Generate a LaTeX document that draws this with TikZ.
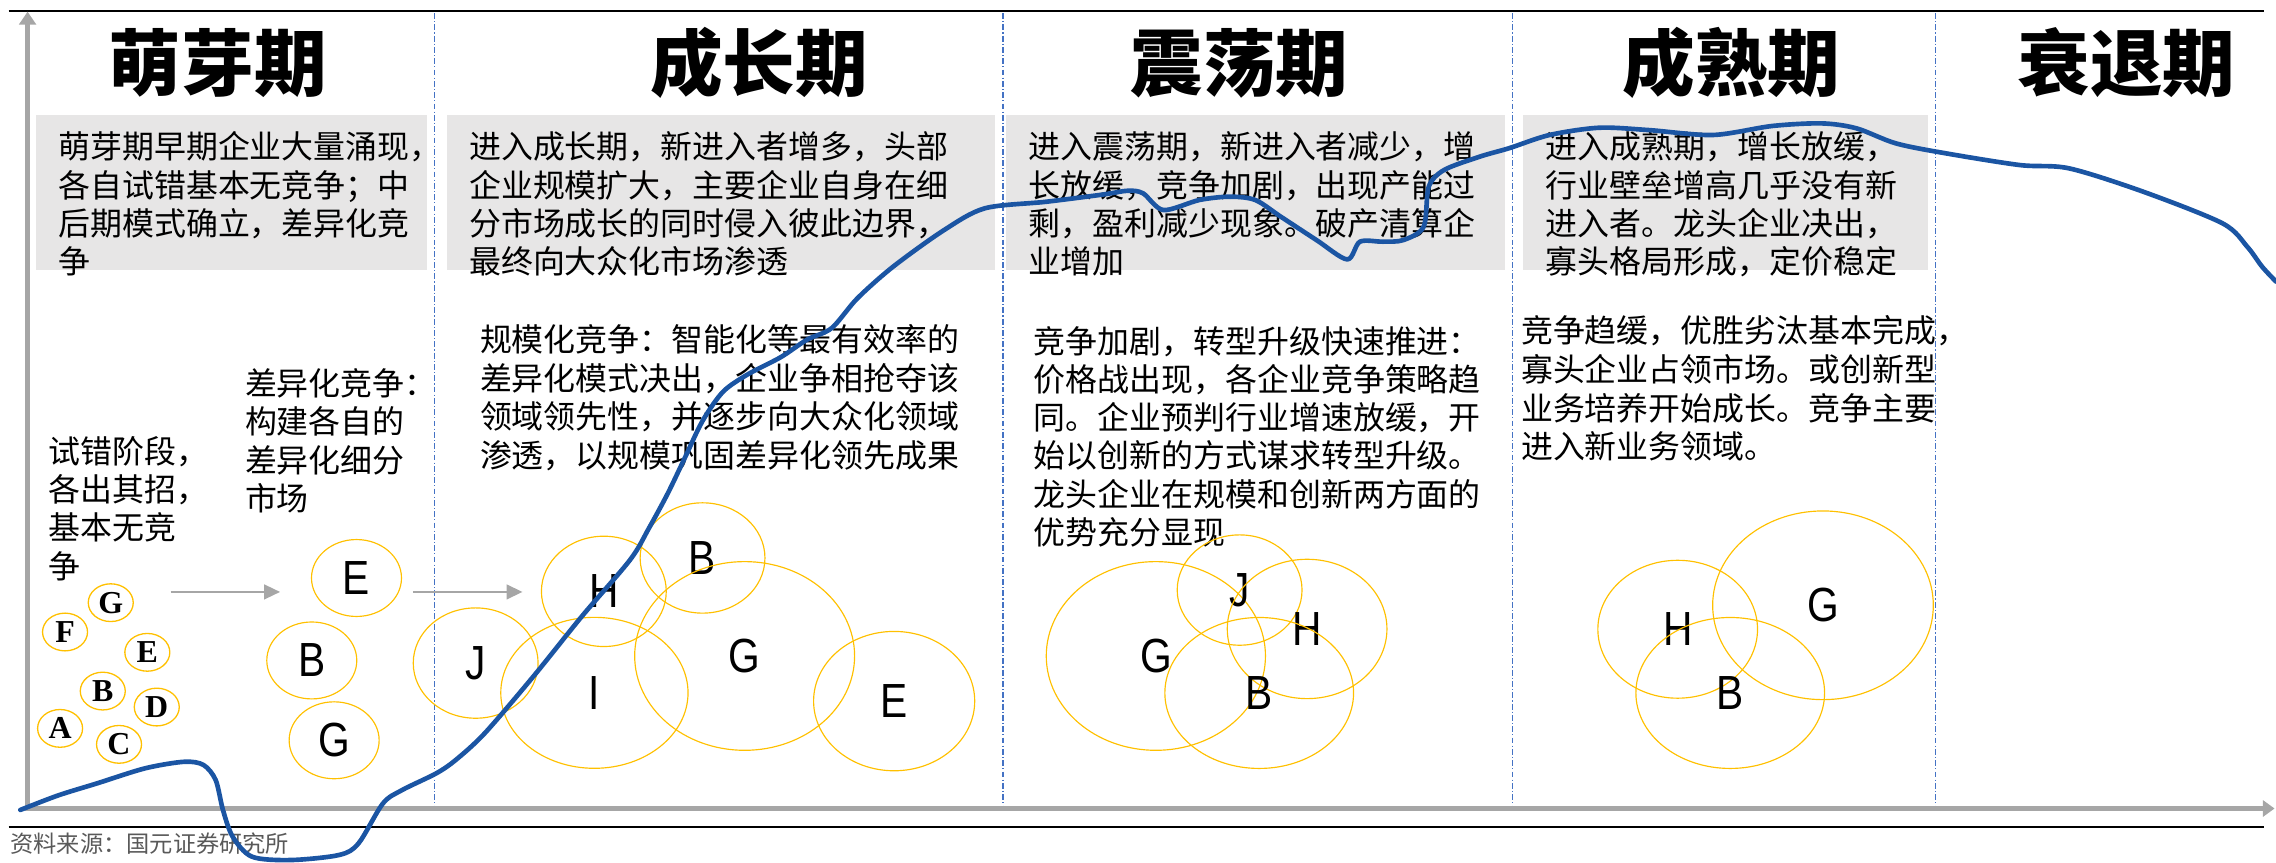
\documentclass[tikz,border=0pt]{standalone}
\usepackage{fontspec}
\setmainfont{Noto Sans CJK SC}
\newfontfamily\latinserif{Liberation Serif}
\newfontfamily\latinsans[FakeStretch=0.85]{Liberation Sans}
\usetikzlibrary{arrows.meta,shapes.geometric}
\definecolor{boxgray}{HTML}{E7E6E6}
\definecolor{ringorange}{HTML}{FFC000}
\definecolor{axisgray}{HTML}{A6A6A6}
\definecolor{phaseblue}{HTML}{4472C4}
\definecolor{curveblue}{HTML}{1B55A3}
\definecolor{srcgray}{HTML}{595959}
\newcommand{\blocktext}[5]{%
  \foreach \t [count=\i] in {#5} {%
    \node[txt, anchor=base west] (#4-\i) at (#1, {#2+(\i-1)*#3}) {\t};%
  }%
}
\begin{document}
\begin{tikzpicture}[x=1pt,y=-1pt,
  gbox/.style={fill=boxgray, draw=none},
  txt/.style={inner sep=0pt, font=\fontsize{22}{26}\selectfont},
  ttl/.style={inner sep=0pt, anchor=base, font=\fontsize{50}{56}\selectfont\bfseries},
  ringS/.style={ellipse, draw=ringorange, line width=0.9pt, inner sep=0pt, minimum width=31pt, minimum height=26pt, font=\latinserif\bfseries\fontsize{22}{24}\selectfont},
  ringL/.style={ellipse, draw=ringorange, line width=0.8pt, inner sep=0pt, font=\latinsans\fontsize{33}{36}\selectfont},
  axisline/.style={draw=axisgray, line width=3.4pt},
  phase/.style={draw=phaseblue, line width=0.8pt, dash pattern=on 4pt off 1.5pt on 0.8pt off 1.5pt},
  garrow/.style={draw=axisgray, line width=1.8pt, -{Triangle[length=11pt,width=10pt]}},
  curve/.style={draw=curveblue, line width=3.2pt, line cap=round, line join=round},
  rule/.style={draw=black, line width=1.5pt}
]
\useasboundingbox (0,0) rectangle (1568,594);

% rules
\coordinate (tl) at (6,7.6); \coordinate (tr) at (1560,7.6);
\coordinate (bl) at (6,569.6); \coordinate (br) at (1560,569.6);
\draw[rule] (tl) -- (tr);
\draw[rule] (bl) -- (br);

% gray boxes
\fill[gbox] (25,79.5) rectangle (294.5,186);
\fill[gbox] (308,79.5) rectangle (685.5,186);
\fill[gbox] (693,79.5) rectangle (1037,186);
\fill[gbox] (1049,79.5) rectangle (1328.5,186);

% phase separators
\foreach \px [count=\k] in {299.5,691,1042,1333.5} {
  \coordinate (pt\k) at (\px,9);
  \coordinate (pb\k) at (\px,557);
  \draw[phase] (pt\k) -- (pb\k);
}

% axes
\coordinate (ybot) at (19,558.7);
\coordinate (ytop) at (19,8);
\coordinate (xo) at (17.3,557);
\coordinate (xend) at (1567,557);
\draw[axisline, -{Triangle[length=9pt,width=11.5pt]}] (ybot) -- (ytop);
\draw[axisline, -{Triangle[length=8pt,width=11pt]}] (xo) -- (xend);

% titles
\node[ttl] (t1) at (150,62.5) {萌芽期};
\node[ttl] (t2) at (523,62.5) {成长期};
\node[ttl] (t3) at (854,62.5) {震荡期};
\node[ttl] (t4) at (1193,62.5) {成熟期};
\node[ttl] (t5) at (1465,62.5) {衰退期};

% box texts
\blocktext{40}{109.4}{26.4}{bx1}{萌芽期早期企业大量涌现，,各自试错基本无竞争；中,后期模式确立，差异化竞,争}
\blocktext{323}{109.4}{26.4}{bx2}{进入成长期，新进入者增多，头部,企业规模扩大，主要企业自身在细,分市场成长的同时侵入彼此边界，,最终向大众化市场渗透}
\blocktext{708.4}{109.4}{26.4}{bx3}{进入震荡期，新进入者减少，增,长放缓，竞争加剧，出现产能过,剩，盈利减少现象。破产清算企,业增加}
\blocktext{1064.8}{109.4}{26.4}{bx4}{进入成熟期，增长放缓，,行业壁垒增高几乎没有新,进入者。龙头企业决出，,寡头格局形成，定价稳定}

% lower texts
\blocktext{33.4}{319.4}{26.3}{d1}{试错阶段，,各出其招，,基本无竞,争}
\blocktext{168.6}{272.4}{26.4}{d2}{差异化竞争：,构建各自的,差异化细分,市场}
\blocktext{330.5}{242.4}{26.5}{d3}{规模化竞争：智能化等最有效率的,差异化模式决出，企业争相抢夺该,领域领先性，并逐步向大众化领域,渗透，以规模巩固差异化领先成果}
\blocktext{712}{243.8}{26.2}{d4}{竞争加剧，转型升级快速推进：,价格战出现，各企业竞争策略趋,同。企业预判行业增速放缓，开,始以创新的方式谋求转型升级。,龙头企业在规模和创新两方面的,优势充分显现}
\blocktext{1047.7}{235.8}{26.8}{d5}{竞争趋缓，优胜劣汰基本完成，,寡头企业占领市场。或创新型,业务培养开始成长。竞争主要,进入新业务领域。}

% small circles (phase 1)
\node[ringS] (sG) at (76.3,415.2) {G};
\node[ringS] (sF) at (44.8,435.4) {F};
\node[ringS] (sE) at (101.5,449.4) {E};
\node[ringS] (sB) at (70.8,476.1) {B};
\node[ringS] (sD) at (108,487.1) {D};
\node[ringS] (sA) at (41.4,501.8) {A};
\node[ringS] (sC) at (82,512.8) {C};

% arrows
\coordinate (a1s) at (117.5,407.8); \coordinate (a1e) at (193,407.8);
\coordinate (a2s) at (284.5,407.8); \coordinate (a2e) at (360,407.8);
\draw[garrow] (a1s) -- (a1e);
\draw[garrow] (a2s) -- (a2e);

% phase 1b
\node[ringL, minimum width=62pt, minimum height=53pt] (mE) at (245.6,398.2) {E};
\node[ringL, minimum width=62pt, minimum height=53pt] (mB) at (214.8,455) {B};
\node[ringL, minimum width=62pt, minimum height=53pt] (mG) at (230.2,510) {G};

% phase 2
\node[ringL, minimum width=86pt, minimum height=76pt] (gJ) at (327.7,456.8) {J};
\node[ringL, minimum width=129pt, minimum height=104pt] (gI) at (409.5,477.3) {I};
\node[ringL, minimum width=86pt, minimum height=76pt] (gH) at (416,407.4) {H};
\node[ringL, minimum width=86pt, minimum height=76pt] (gB) at (484,384.4) {B};
\node[ringL, minimum width=151.5pt, minimum height=130pt] (gG) at (513,451.9) {G};
\node[ringL, minimum width=111pt, minimum height=96pt] (gE) at (616,483) {E};

% phase 3
\node[ringL, minimum width=151pt, minimum height=130pt] (zG) at (796.3,451.9) {G};
\node[ringL, minimum width=86pt, minimum height=76pt] (zJ) at (854,406.5) {J};
\node[ringL, minimum width=110pt, minimum height=96pt] (zH) at (900.5,433.3) {H};
\node[ringL, minimum width=130pt, minimum height=104pt] (zB) at (867.5,477.4) {B};

% phase 4
\node[ringL, minimum width=110pt, minimum height=95pt] (cH) at (1155.8,433.5) {H};
\node[ringL, minimum width=152pt, minimum height=130pt] (cG) at (1255.9,417) {G};
\node[ringL, minimum width=130pt, minimum height=104pt] (cB) at (1192,477.4) {B};

% source
\node[inner sep=0pt, anchor=base west, text=srcgray, font=\fontsize{16}{18}\selectfont] (src) at (7,587) {资料来源：国元证券研究所};

% life-cycle curve
\draw[curve] plot[smooth, tension=0.5] coordinates {
(14,558) (40,548) (66.8,539.7) (100,529.3) (126.9,524.8) (140.2,527) (148.6,537.4) (153.6,558) (160.3,576.4) (173.6,590.2) (200.3,592.5) (233.7,589) (247,581) (263.8,553.5) (277,544.3) (300.5,532.8) (313.9,523.6) (333.9,505.2) (367.3,466.2) (400.7,424.8) (434,385.8) (447,364) (460,340) (472,315) (484,290) (498,270) (515,258) (538,246) (556,234) (573,226) (590.6,205.6) (615.3,183.7) (650.4,158.5) (678.5,143.5) (720.7,139) (760,134) (777,131.4) (787.5,133.2) (801.5,144.7) (826.2,137.8) (847.2,135.5) (864.8,137.8) (882.4,149.3) (907,165.4) (928.1,178.7) (936.9,166.5) (952.7,166.5) (966.8,165.4) (980.8,156.2) (984.3,128.6) (994.9,117.1) (1019.5,107.9) (1040,102) (1067.5,93) (1101.6,88) (1135.7,89.6) (1180,93) (1220.9,86.8) (1255,85) (1278.9,88.4) (1306.2,98.8) (1340.3,105.6) (1391.4,113.7) (1425.5,116) (1476.6,132.1) (1531.2,153.9) (1548.2,170) (1558.4,183.7) (1568,194)
};
\end{tikzpicture}
\end{document}
